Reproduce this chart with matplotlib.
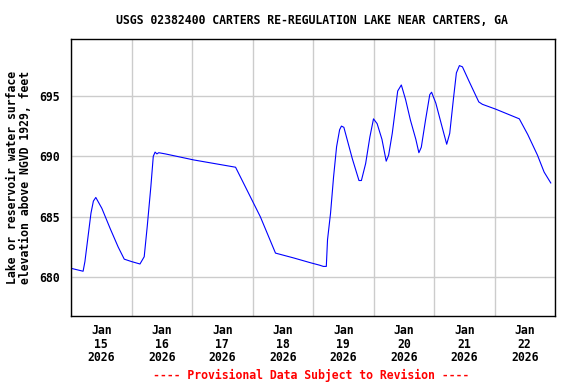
import matplotlib
matplotlib.use("Agg")
import matplotlib.pyplot as plt
import matplotlib.dates as mdates
import numpy as np
import pandas as pd

# lake elevation readings, time as days after 2026-01-15 00:00
start = pd.Timestamp("2026-01-15")
days = [0.02, 0.20, 0.23, 0.33, 0.37, 0.41, 0.51, 0.65, 0.78, 0.88, 1.00,
        1.14, 1.21, 1.26, 1.32, 1.36, 1.39, 1.42, 1.45, 1.56, 2.03, 2.72,
        2.85, 3.13, 3.38, 3.68, 3.96, 4.11, 4.17, 4.22, 4.24, 4.29, 4.34,
        4.39, 4.44, 4.47, 4.51, 4.65, 4.76, 4.80, 4.87, 4.94, 5.00, 5.06,
        5.14, 5.21, 5.25, 5.31, 5.40, 5.46, 5.53, 5.61, 5.70, 5.75, 5.79,
        5.86, 5.93, 5.96, 6.03, 6.13, 6.21, 6.26, 6.32, 6.37, 6.42, 6.47,
        6.58, 6.74, 6.80, 7.02, 7.41, 7.55, 7.71, 7.82, 7.93]
elev = [680.72, 680.5, 681.3, 685.3, 686.3, 686.6, 685.7, 684.0, 682.5,
        681.5, 681.3, 681.1, 681.7, 684.2, 687.5, 690.0, 690.35, 690.2,
        690.3, 690.2, 689.7, 689.1, 687.8, 685.0, 682.0, 681.6, 681.2,
        681.0, 680.9, 680.9, 683.1, 685.3, 688.3, 690.8, 692.2, 692.5,
        692.4, 689.8, 688.0, 688.0, 689.4, 691.6, 693.1, 692.7, 691.4,
        689.6, 690.1, 691.9, 695.4, 695.9, 694.7, 693.0, 691.4, 690.3,
        690.75, 693.0, 695.1, 695.3, 694.4, 692.5, 691.0, 691.9, 694.7,
        696.9, 697.5, 697.4, 696.2, 694.5, 694.3, 693.9, 693.1, 691.8,
        690.1, 688.7, 687.8]
yticks = [680, 685, 690, 695]
title = "USGS 02382400 CARTERS RE-REGULATION LAKE NEAR CARTERS, GA"
ylabel = "Lake or reservoir water surface\nelevation above NGVD 1929, feet"
footer = "---- Provisional Data Subject to Revision ----"

font = {"family": "DejaVu Sans Mono", "weight": "bold", "size": 8.3}

times = start + pd.to_timedelta(days, unit="D")

fig = plt.figure(figsize=(5.76, 3.84), dpi=100)
ax = fig.add_axes([71 / 576, 68 / 384, 484 / 576, 277 / 384])
ax.plot(times, elev, color="#0000ff", linewidth=0.8)

ax.set_xlim(start, start + pd.Timedelta(days=8))
ax.set_ylim(676.8, 699.7)

# gridlines at midnight, labels at noon
ax.xaxis.set_major_locator(mdates.DayLocator())
ax.xaxis.set_major_formatter(plt.NullFormatter())
ax.xaxis.set_minor_locator(mdates.HourLocator(byhour=[12]))
ax.xaxis.set_minor_formatter(mdates.DateFormatter("%b\n%d\n%Y"))
ax.set_yticks(yticks)
ax.set_yticklabels([str(v) for v in yticks], fontdict=font)
for lab in ax.xaxis.get_minorticklabels():
    lab.set_fontproperties(matplotlib.font_manager.FontProperties(**font))
    lab.set_linespacing(1.05)
ax.tick_params(which="both", length=0)
ax.tick_params(axis="y", pad=8)
ax.tick_params(axis="x", which="minor", pad=6)
ax.grid(True, which="major", color="#cccccc", linewidth=1)
ax.set_axisbelow(True)
for s in ax.spines.values():
    s.set_linewidth(1.0)

ax.set_ylabel(ylabel, fontdict=font, labelpad=5, linespacing=1.0)
fig.text(0.541, 1 - 20 / 384, title, ha="center", va="center", fontdict=font)
fig.text(0.541, 1 - 375 / 384, footer, ha="center", va="center",
         color="red", fontdict=font)

fig.savefig("out.png", dpi=100)
